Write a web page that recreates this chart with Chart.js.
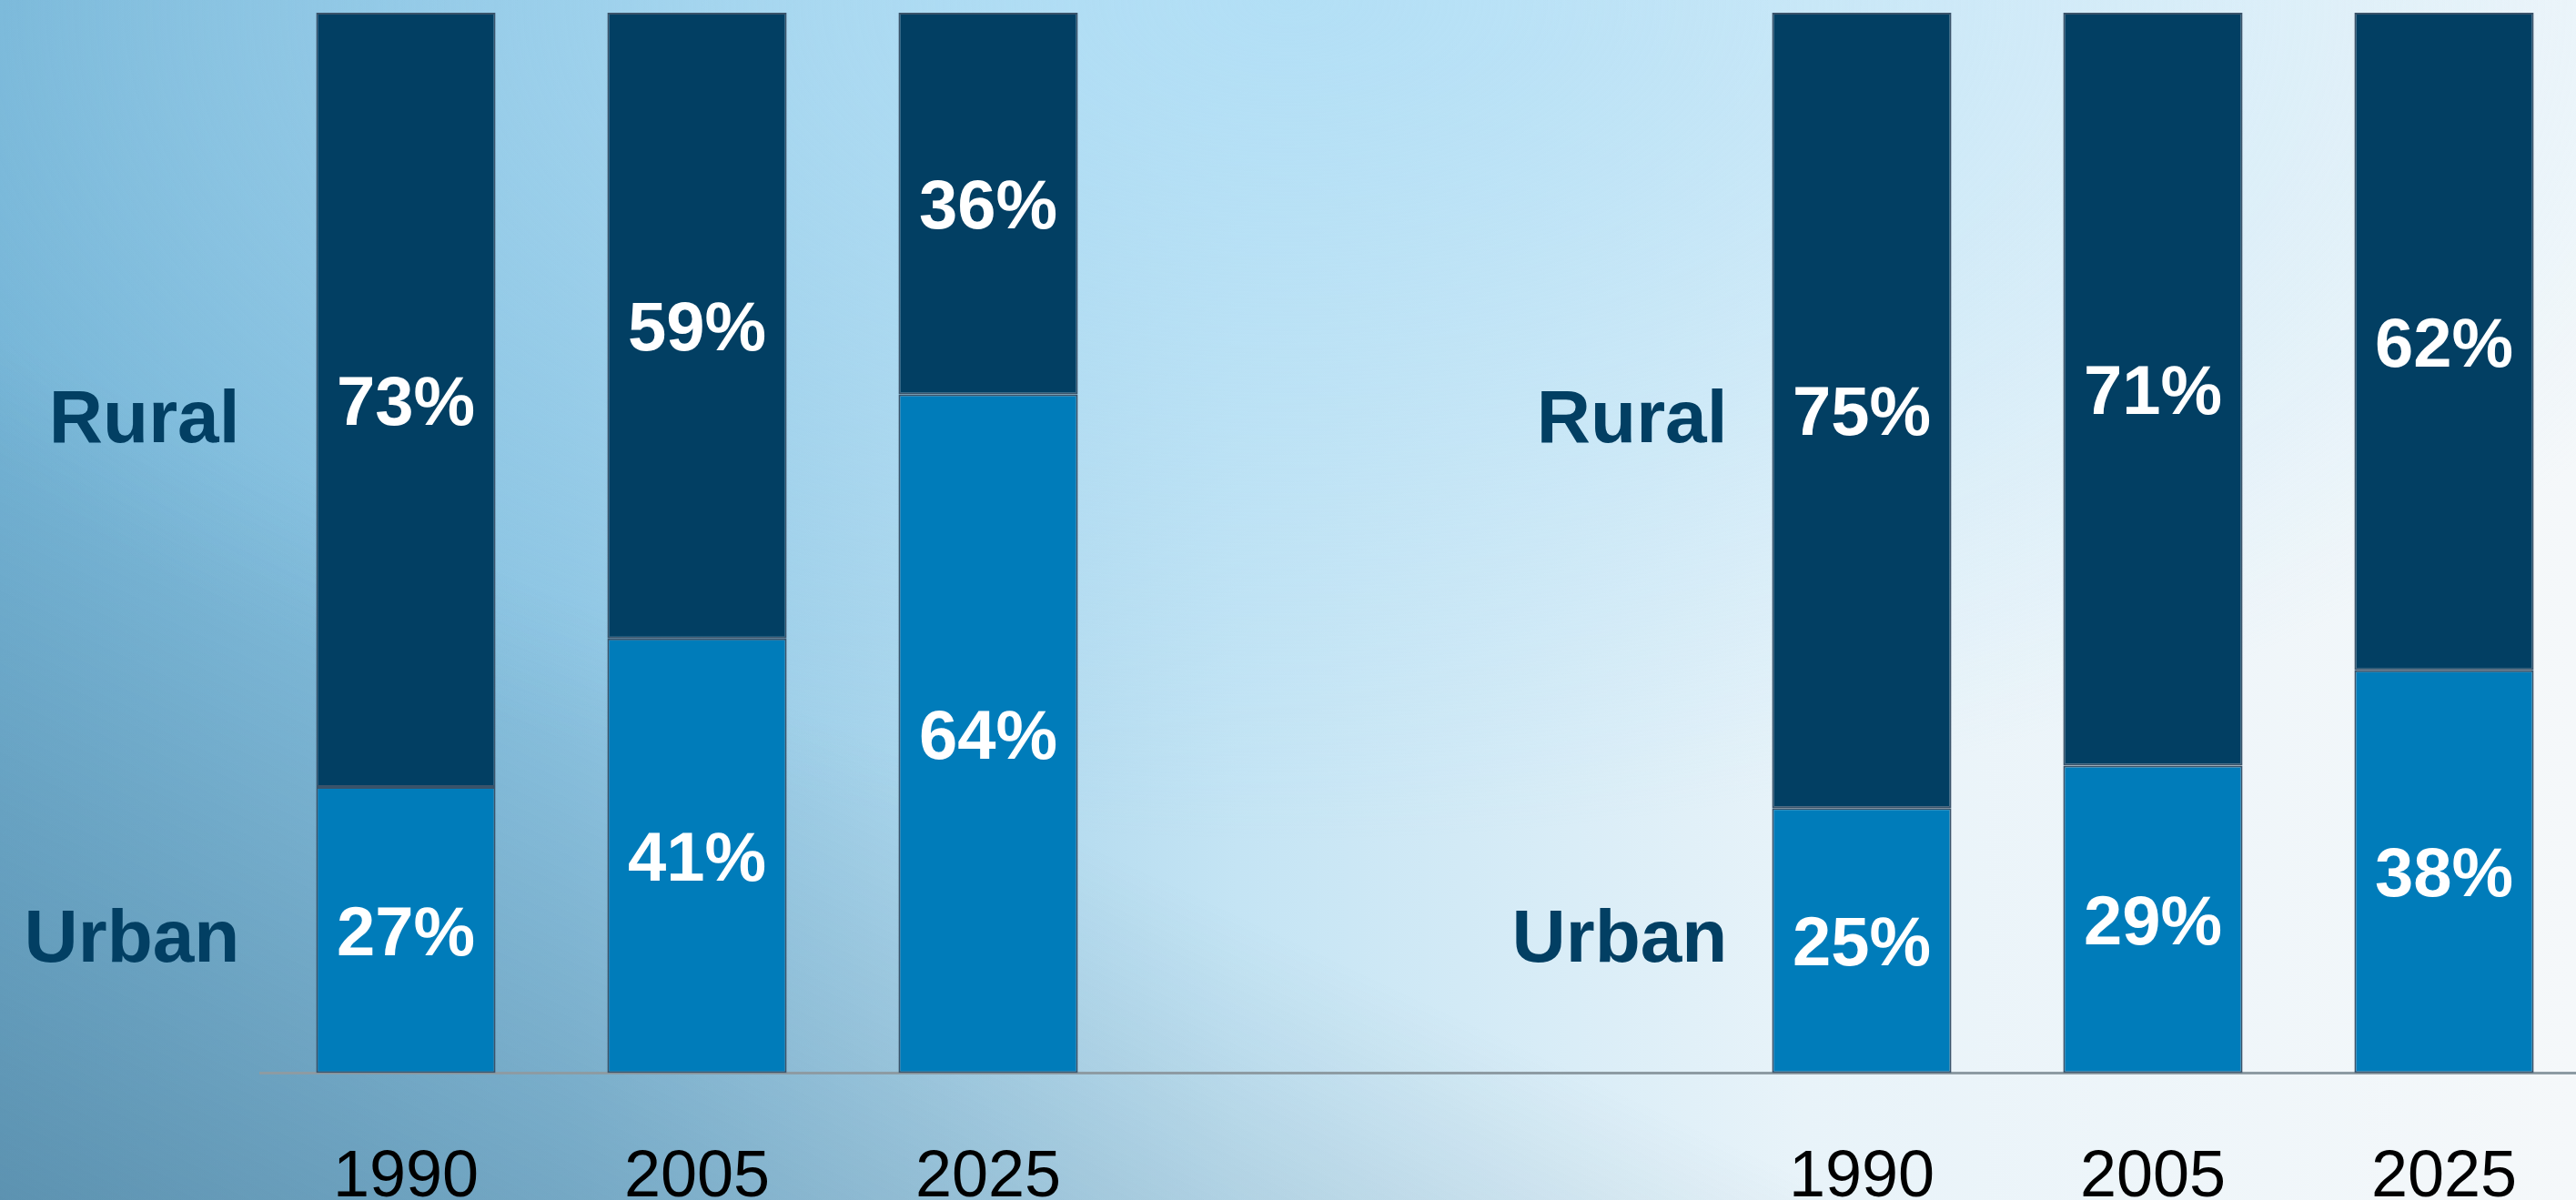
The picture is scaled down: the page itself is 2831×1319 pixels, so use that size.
<!DOCTYPE html>
<html>
<head>
<meta charset="utf-8">
<script src="https://cdn.jsdelivr.net/npm/chart.js@4/dist/chart.umd.min.js"></script>
<style>
  html, body { margin: 0; padding: 0; width: 2831px; height: 1319px; overflow: hidden; }
  body {
    background:
      linear-gradient(to top right, rgba(60,100,125,0.42) 0%, rgba(60,100,125,0.0) 36%),
      radial-gradient(ellipse 60% 70% at 50% 0%, rgba(175,222,246,0.85) 0%, rgba(175,222,246,0) 100%),
      linear-gradient(to right, #74b4d6 0%, #8cc4e2 22%, #c4e4f4 48%, #e8f3f9 70%, #f5f8fa 100%);
  }
  #wrap { position: absolute; left: 0; top: 0; width: 2860px; height: 1410px; }
</style>
</head>
<body>
<div id="wrap"><canvas id="c" width="2860" height="1410"></canvas></div>
<script>
// ---- data ----
const years = ['1990', '2005', '2025'];
const leftUrban = [27, 41, 64];
const leftRural = [73, 59, 36];
const rightUrban = [25, 29, 38];
const rightRural = [75, 71, 62];
const rowLabels = ['Rural', 'Urban'];

// ---- layout / style constants ----
const FONT = "'Liberation Sans', Arial, Helvetica, sans-serif";
const ruralColor = '#023f63';
const urbanColor = '#007cba';
const gapCount = 2;                       // empty category slots between the two groups
const rowLabelValue = { Rural: 59.5, Urban: 10.5 };   // baseline positions on the value axis
const rowLabelGap = [84, 49];            // distance from first bar's left edge to label right edge
const valueFontSize = 76;

const gap = new Array(gapCount).fill(null);
const categories = [...years, ...new Array(gapCount).fill(''), ...years];
const urbanData = [...leftUrban, ...gap, ...rightUrban];
const ruralData = [...leftRural, ...gap, ...rightRural];
const groupStarts = [0, years.length + gapCount];

const valueLabels = {
  id: 'valueLabels',
  afterDatasetsDraw(chart) {
    const ctx = chart.ctx;
    ctx.save();
    ctx.fillStyle = '#ffffff';
    ctx.font = 'bold ' + valueFontSize + 'px ' + FONT;
    ctx.textAlign = 'center';
    ctx.textBaseline = 'alphabetic';
    chart.data.datasets.forEach((ds, di) => {
      const meta = chart.getDatasetMeta(di);
      meta.data.forEach((el, i) => {
        const v = ds.data[i];
        if (v === null || v === undefined) return;
        const cy = (el.y + el.base) / 2;
        ctx.fillText(v + '%', el.x, cy + 0.36 * valueFontSize);
      });
    });
    // row labels
    ctx.fillStyle = '#023f63';
    ctx.font = 'bold 82px ' + FONT;
    ctx.textAlign = 'right';
    const meta0 = chart.getDatasetMeta(0);
    const yScale = chart.scales.y;
    groupStarts.forEach((start, g) => {
      const el = meta0.data[start];
      const left = el.x - el.width / 2;
      rowLabels.forEach(name => {
        ctx.fillText(name, left - rowLabelGap[g], yScale.getPixelForValue(rowLabelValue[name]));
      });
    });
    ctx.restore();
  }
};

new Chart(document.getElementById('c'), {
  type: 'bar',
  data: {
    labels: categories,
    datasets: [
      { label: 'Urban', data: urbanData, backgroundColor: urbanColor, borderColor: '#3a536a', borderWidth: 2, borderSkipped: false,
        categoryPercentage: 1, barPercentage: 0.616 },
      { label: 'Rural', data: ruralData, backgroundColor: ruralColor, borderColor: '#3a536a', borderWidth: 2, borderSkipped: false,
        categoryPercentage: 1, barPercentage: 0.616 }
    ]
  },
  options: {
    responsive: false,
    animation: false,
    devicePixelRatio: 1,
    layout: { padding: { left: 286, right: 14, top: 14, bottom: 0 } },
    plugins: { legend: { display: false }, tooltip: { enabled: false } },
    scales: {
      x: {
        stacked: true,
        grid: { display: false, drawTicks: false },
        border: { display: true, color: '#8d9ba3', width: 3 },
        ticks: { color: '#000000', font: { family: FONT, size: 72 }, padding: 72, autoSkip: false, maxRotation: 0 }
      },
      y: {
        stacked: true,
        display: false,
        min: 0,
        max: 100
      }
    }
  },
  plugins: [valueLabels]
});
</script>
</body>
</html>
